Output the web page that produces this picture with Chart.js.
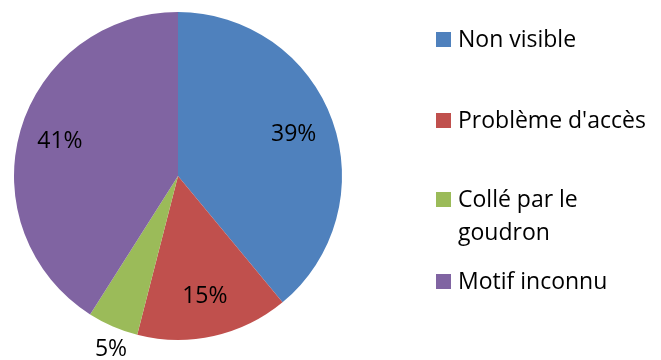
<!DOCTYPE html>
<html>
<head>
<meta charset="utf-8">
<script src="https://cdn.jsdelivr.net/npm/chart.js@4"></script>
<style>
  body { margin: 0; background: #fff; }
</style>
</head>
<body>
<canvas id="pie" width="661" height="360"></canvas>
<script>
var labels = ["Non visible", "Problème d'accès", "Collé par le goudron", "Motif inconnu"];
var legendLines = [["Non visible"], ["Problème d'accès"], ["Collé par le", "goudron"], ["Motif inconnu"]];
var values = [39, 15, 5, 41];
var colors = ["#4F81BD", "#C0504D", "#9BBB59", "#8064A2"];

var FONT = "'Open Sans', 'Liberation Sans', sans-serif";

// percent labels, inside except the small green one
var pctLabels = {
    id: 'pctLabels',
    afterDatasetsDraw: function(chart) {
        var ctx = chart.ctx;
        var meta = chart.getDatasetMeta(0);
        var total = values.reduce(function(a, b) { return a + b; }, 0);
        ctx.save();
        ctx.font = "23px " + FONT;
        ctx.fillStyle = "#000";
        ctx.textAlign = "center";
        ctx.textBaseline = "middle";
        meta.data.forEach(function(arc, i) {
            var mid = (arc.startAngle + arc.endAngle) / 2;
            var small = values[i] / total < 0.1;
            var r = small ? arc.outerRadius + 22 : arc.outerRadius * 0.75;
            if (small) mid -= 0.04;
            var x = arc.x + Math.cos(mid) * r;
            var y = arc.y + Math.sin(mid) * r;
            ctx.fillText(Math.round(values[i] / total * 100) + "%", x, y);
        });
        ctx.restore();
    }
};

// legend drawn by hand to match the spacing of the original
var sideLegend = {
    id: 'sideLegend',
    afterDraw: function(chart) {
        var ctx = chart.ctx;
        var boxY = [39, 120, 199, 281];
        ctx.save();
        ctx.font = "23px " + FONT;
        ctx.textBaseline = "middle";
        legendLines.forEach(function(lines, i) {
            ctx.fillStyle = colors[i];
            ctx.fillRect(436, boxY[i] - 7, 15, 15);
            ctx.fillStyle = "#000";
            lines.forEach(function(t, j) {
                ctx.fillText(t, 458, boxY[i] + 1 + j * 33);
            });
        });
        ctx.restore();
    }
};

var ctx = document.getElementById("pie");
var myChart = new Chart(ctx, {
    type: 'pie',
    data: {
        labels: labels,
        datasets: [{
            data: values,
            backgroundColor: colors,
            borderWidth: 0
        }]
    },
    options: {
        responsive: false,
        animation: false,
        layout: { padding: { left: 14, right: 319, top: 12, bottom: 20 } },
        plugins: {
            legend: { display: false },
            tooltip: { enabled: false }
        }
    },
    plugins: [pctLabels, sideLegend]
});
</script>
</body>
</html>
